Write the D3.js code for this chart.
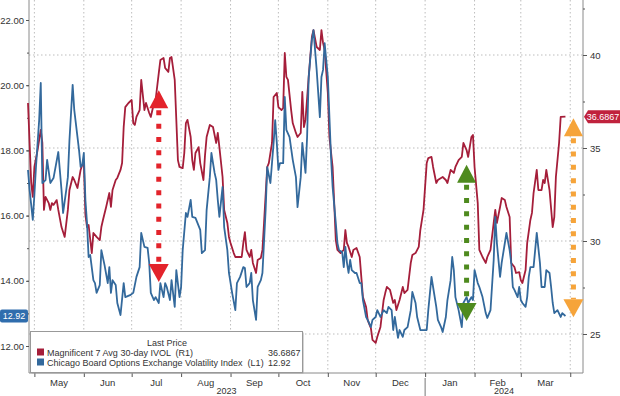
<!DOCTYPE html>
<html>
<head>
<meta charset="utf-8">
<script src="https://cdn.jsdelivr.net/npm/d3@7"></script>
<style>
  body { margin: 0; background: #fff; }
  svg text { font-family: "Liberation Sans", Arial, sans-serif; white-space: pre; }
</style>
</head>
<body>
<div id="chart"></div>
<script>
// CBOE VIX (left axis)
var vixDates = [
  "2023-04-27","2023-04-28","2023-04-30","2023-05-01","2023-05-02","2023-05-04","2023-05-05","2023-05-06","2023-05-08","2023-05-09",
  "2023-05-11","2023-05-13","2023-05-16","2023-05-18","2023-05-19","2023-05-21","2023-05-22","2023-05-23","2023-05-25","2023-05-26",
  "2023-05-29","2023-05-30","2023-05-31","2023-06-01","2023-06-02","2023-06-03","2023-06-04","2023-06-05","2023-06-07","2023-06-08",
  "2023-06-09","2023-06-11","2023-06-12","2023-06-14","2023-06-16","2023-06-17","2023-06-18","2023-06-19","2023-06-21","2023-06-22",
  "2023-06-24","2023-06-26","2023-06-27","2023-06-30","2023-07-02","2023-07-04","2023-07-06","2023-07-07","2023-07-09","2023-07-11",
  "2023-07-12","2023-07-13","2023-07-15","2023-07-16","2023-07-18","2023-07-19","2023-07-21","2023-07-22","2023-07-23","2023-07-25",
  "2023-07-26","2023-07-28","2023-07-29","2023-07-31","2023-08-01","2023-08-02","2023-08-04","2023-08-05","2023-08-07","2023-08-08",
  "2023-08-10","2023-08-13","2023-08-14","2023-08-16","2023-08-17","2023-08-19","2023-08-20","2023-08-22","2023-08-23","2023-08-24",
  "2023-08-25","2023-08-27","2023-08-28","2023-08-30","2023-08-31","2023-09-02","2023-09-04","2023-09-05","2023-09-07","2023-09-09",
  "2023-09-10","2023-09-11","2023-09-13","2023-09-14","2023-09-15","2023-09-17","2023-09-18","2023-09-20","2023-09-21","2023-09-23",
  "2023-09-24","2023-09-26","2023-09-28","2023-09-29","2023-09-30","2023-10-01","2023-10-02","2023-10-04","2023-10-05","2023-10-06",
  "2023-10-08","2023-10-10","2023-10-12","2023-10-13","2023-10-15","2023-10-16","2023-10-18","2023-10-19","2023-10-20","2023-10-22",
  "2023-10-23","2023-10-25","2023-10-27","2023-10-28","2023-10-29","2023-10-30","2023-11-01","2023-11-02","2023-11-03","2023-11-04",
  "2023-11-06","2023-11-07","2023-11-08","2023-11-10","2023-11-11","2023-11-12","2023-11-13","2023-11-14","2023-11-15","2023-11-16",
  "2023-11-18","2023-11-19","2023-11-21","2023-11-22","2023-11-23","2023-11-25","2023-11-26","2023-11-28","2023-11-29","2023-12-01",
  "2023-12-02","2023-12-04","2023-12-06","2023-12-08","2023-12-09","2023-12-11","2023-12-12","2023-12-13","2023-12-15","2023-12-16",
  "2023-12-18","2023-12-19","2023-12-21","2023-12-23","2023-12-24","2023-12-26","2023-12-27","2023-12-29","2023-12-31","2024-01-02",
  "2024-01-03","2024-01-05","2024-01-06","2024-01-08","2024-01-09","2024-01-11","2024-01-12","2024-01-14","2024-01-15","2024-01-17",
  "2024-01-18","2024-01-19","2024-01-20","2024-01-22","2024-01-24","2024-01-25","2024-01-27","2024-01-28","2024-01-30","2024-01-31",
  "2024-02-01","2024-02-03","2024-02-04","2024-02-06","2024-02-08","2024-02-09","2024-02-11","2024-02-13","2024-02-14","2024-02-15",
  "2024-02-17","2024-02-18","2024-02-20","2024-02-21","2024-02-23","2024-02-24","2024-02-25","2024-02-26","2024-02-28","2024-02-29",
  "2024-03-01","2024-03-02","2024-03-04","2024-03-05","2024-03-06","2024-03-07","2024-03-09","2024-03-10","2024-03-11","2024-03-13",
  "2024-03-14","2024-03-16","2024-03-17","2024-03-19","2024-03-20","2024-03-21","2024-03-22","2024-03-24","2024-03-26","2024-03-27",
  "2024-03-29"
];
var vixValues = [
  17.40,16.79,15.87,16.63,17.49,18.93,20.07,17.00,17.09,17.71,
  17.00,17.15,17.95,16.79,16.08,16.79,17.18,18.32,20.01,19.24,
  18.01,17.49,17.55,17.92,16.48,15.77,14.73,14.79,14.02,13.93,
  13.63,13.87,14.94,14.48,13.93,14.42,13.63,14.02,13.87,13.32,
  12.95,13.93,13.50,13.56,13.63,14.12,14.42,15.47,15.04,15.01,
  14.55,13.63,13.41,13.50,13.32,13.93,13.50,13.93,13.81,13.41,
  14.02,13.20,14.33,13.50,13.81,14.94,16.08,15.96,16.48,15.96,
  15.93,15.56,14.85,14.94,16.17,17.18,17.92,17.31,17.09,16.48,
  15.96,16.88,15.65,14.94,14.24,13.63,13.10,13.93,14.12,14.42,
  14.39,13.81,13.93,14.24,13.41,12.80,13.81,14.02,14.24,16.17,
  17.49,17.00,18.23,18.93,18.23,17.40,17.61,17.61,19.64,18.63,
  18.41,17.71,17.18,16.26,17.18,18.23,17.31,18.41,20.25,21.39,
  21.69,20.47,19.02,20.25,20.47,21.29,20.25,19.02,17.80,16.88,
  15.77,15.16,14.94,14.88,14.42,15.04,14.55,14.24,14.64,14.33,
  14.24,14.24,13.93,13.93,13.41,12.89,12.80,12.58,12.80,12.89,
  13.10,12.89,13.10,13.01,13.20,13.10,12.49,12.89,12.25,12.49,
  12.28,12.49,12.58,13.10,13.66,13.32,12.89,12.49,12.49,12.49,
  13.10,14.12,13.81,13.20,12.80,12.58,12.43,12.89,13.41,14.02,
  14.73,14.33,13.50,13.10,12.58,13.32,13.50,13.32,13.50,13.41,
  14.33,13.93,13.81,13.50,13.01,12.86,13.10,14.64,15.96,15.16,
  14.12,14.55,15.16,15.47,14.94,14.55,13.81,13.72,13.50,13.81,
  13.41,13.32,13.20,13.50,14.12,14.42,14.42,14.94,15.47,14.55,
  13.81,13.81,14.33,14.24,13.81,13.32,13.01,13.10,12.89,13.01,
  12.92
];

// Magnificent 7 avg 30-day implied vol (right axis)
var magDates = [
  "2023-04-27","2023-04-28","2023-04-29","2023-04-30","2023-05-01","2023-05-03","2023-05-05","2023-05-06","2023-05-07","2023-05-08",
  "2023-05-10","2023-05-11","2023-05-12","2023-05-13","2023-05-15","2023-05-16","2023-05-18","2023-05-19","2023-05-20","2023-05-22",
  "2023-05-23","2023-05-25","2023-05-26","2023-05-28","2023-05-30","2023-05-31","2023-06-01","2023-06-02","2023-06-03","2023-06-04",
  "2023-06-06","2023-06-07","2023-06-09","2023-06-11","2023-06-12","2023-06-13","2023-06-15","2023-06-17","2023-06-18","2023-06-19",
  "2023-06-21","2023-06-22","2023-06-24","2023-06-25","2023-06-26","2023-06-27","2023-06-29","2023-07-01","2023-07-02","2023-07-03",
  "2023-07-04","2023-07-06","2023-07-07","2023-07-09","2023-07-10","2023-07-12","2023-07-13","2023-07-15","2023-07-16","2023-07-18",
  "2023-07-19","2023-07-21","2023-07-22","2023-07-24","2023-07-25","2023-07-26","2023-07-28","2023-07-29","2023-07-30","2023-07-31",
  "2023-08-02","2023-08-03","2023-08-04","2023-08-05","2023-08-07","2023-08-08","2023-08-09","2023-08-10","2023-08-12","2023-08-13",
  "2023-08-15","2023-08-16","2023-08-17","2023-08-19","2023-08-21","2023-08-23","2023-08-24","2023-08-25","2023-08-27","2023-08-28",
  "2023-08-30","2023-08-31","2023-09-01","2023-09-03","2023-09-04","2023-09-06","2023-09-08","2023-09-09","2023-09-10","2023-09-11",
  "2023-09-13","2023-09-14","2023-09-15","2023-09-17","2023-09-18","2023-09-20","2023-09-21","2023-09-22","2023-09-24","2023-09-25",
  "2023-09-27","2023-09-28","2023-09-30","2023-10-01","2023-10-03","2023-10-04","2023-10-05","2023-10-06","2023-10-07","2023-10-09",
  "2023-10-10","2023-10-12","2023-10-13","2023-10-15","2023-10-16","2023-10-17","2023-10-18","2023-10-20","2023-10-22","2023-10-23",
  "2023-10-25","2023-10-27","2023-10-28","2023-10-29","2023-10-30","2023-11-01","2023-11-02","2023-11-04","2023-11-05","2023-11-06",
  "2023-11-07","2023-11-09","2023-11-11","2023-11-12","2023-11-13","2023-11-14","2023-11-16","2023-11-17","2023-11-19","2023-11-21",
  "2023-11-22","2023-11-23","2023-11-25","2023-11-26","2023-11-28","2023-11-29","2023-12-01","2023-12-02","2023-12-04","2023-12-06",
  "2023-12-07","2023-12-08","2023-12-10","2023-12-12","2023-12-13","2023-12-14","2023-12-16","2023-12-18","2023-12-19","2023-12-21",
  "2023-12-23","2023-12-24","2023-12-26","2023-12-28","2023-12-29","2023-12-31","2024-01-02","2024-01-03","2024-01-05","2024-01-06",
  "2024-01-08","2024-01-09","2024-01-11","2024-01-12","2024-01-14","2024-01-15","2024-01-17","2024-01-19","2024-01-20","2024-01-22",
  "2024-01-24","2024-01-25","2024-01-27","2024-01-28","2024-01-30","2024-01-31","2024-02-01","2024-02-03","2024-02-04","2024-02-06",
  "2024-02-08","2024-02-09","2024-02-11","2024-02-13","2024-02-14","2024-02-15","2024-02-17","2024-02-18","2024-02-20","2024-02-21",
  "2024-02-23","2024-02-24","2024-02-26","2024-02-27","2024-02-29","2024-03-01","2024-03-02","2024-03-04","2024-03-05","2024-03-07",
  "2024-03-08","2024-03-09","2024-03-11","2024-03-12","2024-03-14","2024-03-15","2024-03-16","2024-03-17","2024-03-19","2024-03-21",
  "2024-03-22","2024-03-23","2024-03-25","2024-03-26","2024-03-29"
];
var magValues = [
  37.42,35.27,33.12,32.37,33.98,34.89,35.97,35.27,31.67,32.37,
  32.04,31.67,32.04,31.94,32.20,31.67,30.75,30.48,30.22,31.67,
  32.74,33.44,33.28,32.85,33.82,34.09,34.19,31.40,30.75,30.86,
  29.35,30.43,30.22,30.05,30.75,31.13,31.83,32.58,31.83,32.74,
  33.28,33.39,33.82,34.19,36.13,37.20,37.42,37.58,36.34,36.24,
  36.67,37.04,38.66,37.04,37.42,36.88,36.67,37.42,37.58,39.03,
  39.73,39.84,39.30,39.09,39.84,39.89,38.66,36.51,34.35,33.98,
  33.92,34.73,36.34,36.51,35.59,34.35,33.82,34.73,35.05,34.19,
  33.28,34.62,35.59,36.24,36.13,35.27,35.81,35.05,33.44,31.67,
  30.97,30.22,29.89,29.35,29.14,29.14,29.14,29.89,30.48,29.52,
  29.14,29.52,28.82,28.28,28.98,29.09,29.52,30.97,33.98,34.19,
  35.27,37.74,37.96,37.20,37.04,37.15,40.11,38.82,38.66,37.04,
  36.34,35.81,35.59,35.81,38.01,36.13,36.51,38.82,40.97,41.34,
  40.43,40.27,41.34,40.65,40.27,37.96,35.59,33.98,32.04,30.05,
  29.52,29.35,29.52,30.59,29.89,29.68,29.14,29.52,29.62,29.14,
  28.06,26.99,26.45,25.75,25.32,24.68,24.52,24.84,25.38,26.83,
  27.20,27.53,27.37,26.67,26.83,26.29,26.83,27.53,27.20,27.37,
  28.82,29.25,29.35,29.68,30.59,31.67,34.19,34.46,34.52,33.98,
  33.12,33.28,33.39,33.44,33.28,33.12,33.82,33.66,33.98,34.35,
  34.52,35.27,34.89,34.52,35.59,35.70,33.98,32.04,29.52,29.14,
  28.82,29.14,29.52,30.97,31.67,30.97,31.83,32.31,32.20,31.83,
  31.29,28.82,28.60,28.28,28.33,27.90,27.74,28.44,29.89,31.13,
  31.51,32.58,33.82,32.74,32.74,33.28,33.12,33.82,32.74,30.75,
  31.29,33.44,35.27,36.67,36.6867
];

var leftTicks = [12, 14, 16, 18, 20, 22];
var rightTicks = [25, 30, 35, 40];
var yearLabels = ["2023", "2024"];

var legendTitle = "Last Price";
var legendNames = ["Magnificent 7 Avg 30-day IVOL  (R1)", "Chicago Board Options Exchange Volatility Index  (L1)"];
var legendValues = ["36.6867", "12.92"];

// the three double arrows (dates, and ends on the right axis)
var arrowDates = ["2023-07-18", "2024-01-27", "2024-04-03"];
var arrowTops = [38.1, 34.1, 36.6];
var arrowBottoms = [27.8, 25.7, 25.9];

var red = "#a51e3a";
var blue = "#33699c";
var arrowColors = ["#e3232b", "#4e8a1e", "#f6a43a"];
var grid = "#bdbdbd";
var axisCol = "#8a8a8a";
var txt = "#333";

var w = 620;
var h = 396;
var left = 29;
var right = 583;
var bottom = 373;

var parse = d3.timeParse("%Y-%m-%d");
var vix = vixDates.map((d, i) => ({ date: parse(d), v: vixValues[i] }));
var mag = magDates.map((d, i) => ({ date: parse(d), v: magValues[i] }));

const x = d3.scaleTime()
  .domain([new Date(2023, 3, 27), new Date(2024, 3, 9)])
  .range([28, right]);
const yL = d3.scaleLinear().domain([12, 22]).range([346, 20]);
const yR = d3.scaleLinear().domain([25, 40]).range([334, 55]);

const svg = d3.select("#chart").append("svg")
  .attr("width", w)
  .attr("height", h);

var months = d3.timeMonth.range(new Date(2023, 4, 1), new Date(2024, 3, 2));

// grid
svg.append("g").selectAll("line")
  .data(months)
  .enter().append("line")
  .attr("x1", d => x(d)).attr("x2", d => x(d))
  .attr("y1", 0).attr("y2", bottom)
  .attr("stroke", grid).attr("stroke-dasharray", "1.5,2.5");

svg.append("g").selectAll("line")
  .data(rightTicks)
  .enter().append("line")
  .attr("x1", left).attr("x2", right)
  .attr("y1", d => yR(d)).attr("y2", d => yR(d))
  .attr("stroke", grid).attr("stroke-dasharray", "1.5,2.5");

// frame lines
svg.append("line").attr("x1", left).attr("x2", left).attr("y1", 0).attr("y2", bottom).attr("stroke", axisCol);
svg.append("line").attr("x1", right).attr("x2", right).attr("y1", 0).attr("y2", bottom).attr("stroke", axisCol);
svg.append("line").attr("x1", left).attr("x2", right).attr("y1", bottom).attr("y2", bottom).attr("stroke", axisCol);

// left axis
const leftAxis = svg.append("g")
  .attr("transform", "translate(" + left + ",0)")
  .call(d3.axisLeft(yL).tickValues(leftTicks).tickFormat(d3.format(".2f")).tickSize(3).tickPadding(2));
const leftMinor = svg.append("g")
  .attr("transform", "translate(" + left + ",0)")
  .call(d3.axisLeft(yL).tickValues(d3.range(12, 23)).tickFormat("").tickSize(2));

// right axis
const rightAxis = svg.append("g")
  .attr("transform", "translate(" + right + ",0)")
  .call(d3.axisRight(yR).tickValues(rightTicks).tickSize(4).tickPadding(3));
const rightMinor = svg.append("g")
  .attr("transform", "translate(" + right + ",0)")
  .call(d3.axisRight(yR).tickValues([27.5, 32.5, 37.5, 42.5]).tickFormat("").tickSize(2));

// bottom axis: month ticks, labels in the middle of each month
const xAxis = svg.append("g")
  .attr("transform", "translate(0," + bottom + ")")
  .call(d3.axisBottom(x).tickValues(months).tickFormat("").tickSize(4));

[leftAxis, leftMinor, rightAxis, rightMinor, xAxis].forEach(g => {
  g.select(".domain").remove();
  g.selectAll("line").attr("stroke", "#555");
  g.selectAll("text").attr("fill", txt).style("font-size", "9.5px")
    .style("font-family", "'Liberation Sans', Arial, sans-serif");
});

svg.append("g").selectAll("text")
  .data(months.slice(0, -1))
  .enter().append("text")
  .attr("x", d => (x(d) + x(d3.timeMonth.offset(d, 1))) / 2)
  .attr("y", 385.5)
  .attr("text-anchor", "middle")
  .attr("fill", txt)
  .style("font-size", "9.5px")
  .text(d3.timeFormat("%b"));

var yearEdges = [x.domain()[0], new Date(2024, 0, 1), x.domain()[1]];
svg.append("g").selectAll("text")
  .data(yearLabels)
  .enter().append("text")
  .attr("x", (d, i) => (x(yearEdges[i]) + x(yearEdges[i + 1])) / 2)
  .attr("y", 394)
  .attr("text-anchor", "middle")
  .attr("fill", txt)
  .style("font-size", "9px")
  .text(d => d);

svg.append("line")
  .attr("x1", x(yearEdges[1])).attr("x2", x(yearEdges[1]))
  .attr("y1", 378).attr("y2", 396)
  .attr("stroke", "#777");

// series
const magLine = d3.line().x(d => x(d.date)).y(d => yR(d.v));
const vixLine = d3.line().x(d => x(d.date)).y(d => yL(d.v));

svg.append("path").datum(mag)
  .attr("d", magLine)
  .attr("fill", "none").attr("stroke", red).attr("stroke-width", 1.8)
  .attr("stroke-linejoin", "round");

svg.append("path").datum(vix)
  .attr("d", vixLine)
  .attr("fill", "none").attr("stroke", blue).attr("stroke-width", 1.8)
  .attr("stroke-linejoin", "round");

// arrows
arrowDates.forEach((d, i) => {
  var ax = x(parse(d));
  var t = yR(arrowTops[i]);
  var b = yR(arrowBottoms[i]);
  var c = arrowColors[i];
  var g = svg.append("g");
  g.append("line")
    .attr("x1", ax).attr("x2", ax)
    .attr("y1", t + 20).attr("y2", b - 18)
    .attr("stroke", c).attr("stroke-width", 5)
    .attr("stroke-dasharray", "5,8.3");
  g.append("path")
    .attr("d", `M${ax},${t}L${ax + 9.5},${t + 18}L${ax - 9.5},${t + 18}Z`)
    .attr("fill", c);
  g.append("path")
    .attr("d", `M${ax},${b}L${ax + 10},${b - 18}L${ax - 10},${b - 18}Z`)
    .attr("fill", c);
});

// last value tags
var lastVix = vixValues[vixValues.length - 1];
var lastMag = magValues[magValues.length - 1];

svg.append("rect")
  .attr("x", 0).attr("y", yL(lastVix) - 6.5)
  .attr("width", 28).attr("height", 13).attr("rx", 2)
  .attr("fill", "#2f6dad");
svg.append("text")
  .attr("x", 14).attr("y", yL(lastVix) + 3.3)
  .attr("text-anchor", "middle").attr("fill", "#fff")
  .style("font-size", "9px")
  .text(d3.format(".2f")(lastVix));

var ty = yR(lastMag);
svg.append("path")
  .attr("d", `M${right + 1},${ty}L${right + 5},${ty - 6.5}L${w},${ty - 6.5}L${w},${ty + 6.5}L${right + 5},${ty + 6.5}Z`)
  .attr("fill", "#c0223d");
svg.append("text")
  .attr("x", 603).attr("y", ty + 3.3)
  .attr("text-anchor", "middle").attr("fill", "#fff")
  .style("font-size", "9px")
  .text(lastMag);

// legend
const legend = svg.append("g");
legend.append("rect")
  .attr("x", 31.5).attr("y", 332.5).attr("width", 272).attr("height", 41)
  .attr("fill", "#aaa");
legend.append("rect")
  .attr("x", 30.5).attr("y", 331.5).attr("width", 272).attr("height", 41)
  .attr("fill", "#fff").attr("stroke", "#999");
legend.append("text")
  .attr("x", 167).attr("y", 345.5)
  .attr("text-anchor", "middle").attr("fill", txt)
  .style("font-size", "9px")
  .text(legendTitle);

var legendColors = [red, blue];
legendNames.forEach((n, i) => {
  var ly = 355.5 + i * 10;
  legend.append("rect")
    .attr("x", 37).attr("y", ly - 7).attr("width", 7).attr("height", 7)
    .attr("fill", legendColors[i]);
  legend.append("text")
    .attr("x", 47).attr("y", ly)
    .attr("fill", txt).style("font-size", "9px")
    .text(n);
  legend.append("text")
    .attr("x", 268).attr("y", ly)
    .attr("fill", txt).style("font-size", "9px")
    .text(legendValues[i]);
});
</script>
</body>
</html>
